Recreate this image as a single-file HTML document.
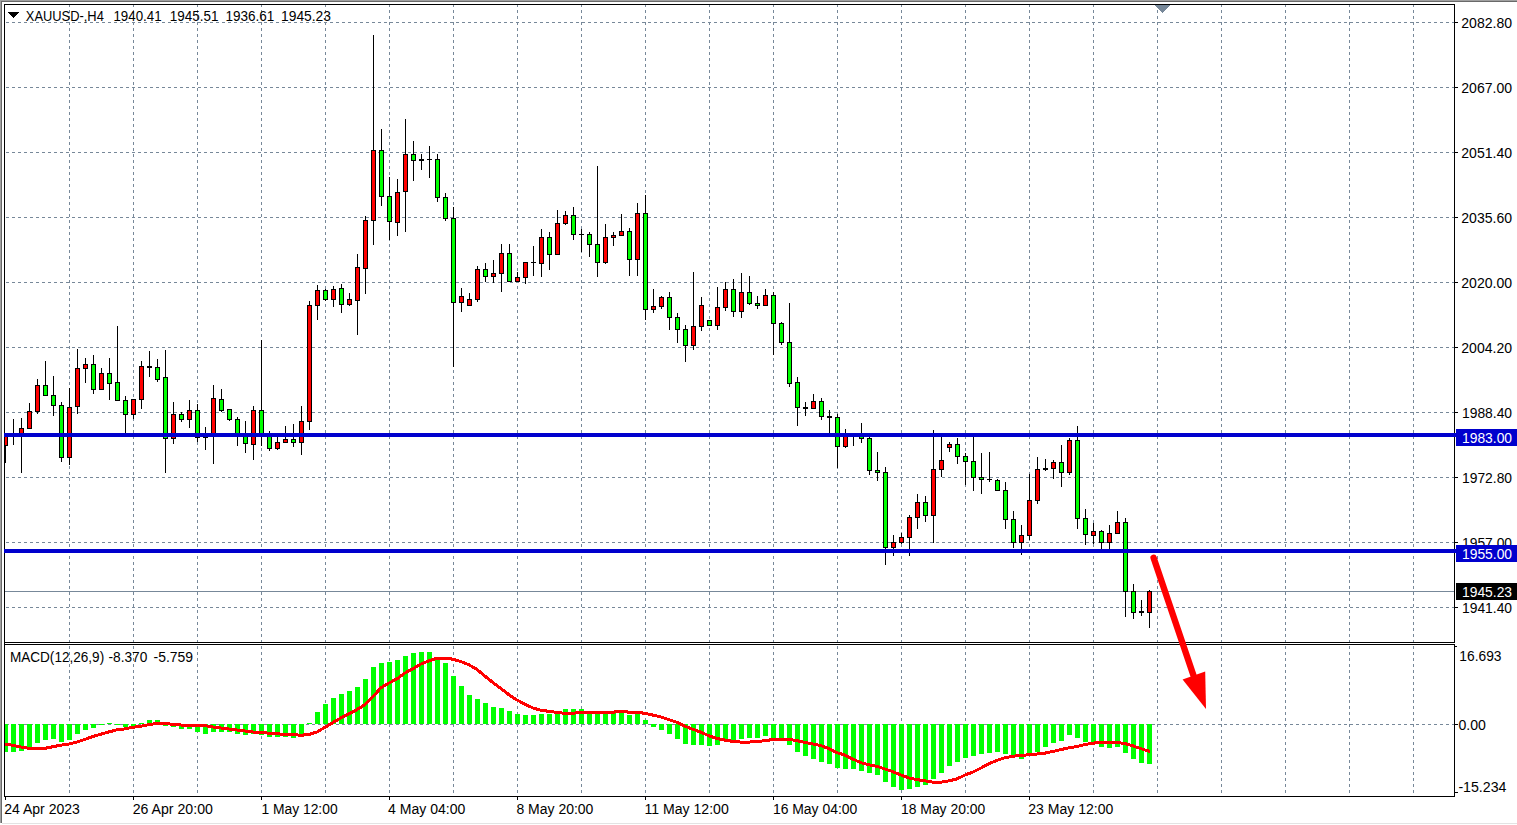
<!DOCTYPE html>
<html><head><meta charset="utf-8"><style>
html,body{margin:0;padding:0;background:#fff;width:1517px;height:825px;overflow:hidden}
svg{display:block}
text{font-family:"Liberation Sans",sans-serif;font-size:14px}
</style></head><body>
<svg width="1517" height="825" viewBox="0 0 1517 825" shape-rendering="crispEdges">
<defs>
<pattern id="hd" x="0" y="0" width="6" height="1" patternUnits="userSpaceOnUse"><rect x="0" y="0" width="3" height="1" fill="#778899"/></pattern>
<pattern id="vd" x="0" y="4" width="1" height="6" patternUnits="userSpaceOnUse"><rect x="0" y="0" width="1" height="3" fill="#778899"/></pattern>
<clipPath id="cm"><rect x="5" y="5" width="1449" height="637"/></clipPath>
<clipPath id="cs"><rect x="5" y="645" width="1449" height="151"/></clipPath>
</defs>
<rect x="0" y="0" width="1517" height="825" fill="#fff"/>
<rect x="0" y="0" width="1517" height="1" fill="#a0a0a0"/><rect x="0" y="0" width="1" height="823" fill="#a0a0a0"/><rect x="1" y="1" width="1517" height="1" fill="#696969"/><rect x="1" y="1" width="1" height="822" fill="#696969"/><rect x="2" y="823" width="1517" height="1" fill="#e3e3e3"/><rect x="5" y="22" width="1449" height="1" fill="url(#hd)"/><rect x="5" y="87" width="1449" height="1" fill="url(#hd)"/><rect x="5" y="152" width="1449" height="1" fill="url(#hd)"/><rect x="5" y="217" width="1449" height="1" fill="url(#hd)"/><rect x="5" y="282" width="1449" height="1" fill="url(#hd)"/><rect x="5" y="347" width="1449" height="1" fill="url(#hd)"/><rect x="5" y="412" width="1449" height="1" fill="url(#hd)"/><rect x="5" y="477" width="1449" height="1" fill="url(#hd)"/><rect x="5" y="542" width="1449" height="1" fill="url(#hd)"/><rect x="5" y="607" width="1449" height="1" fill="url(#hd)"/><rect x="69" y="5" width="1" height="637" fill="url(#vd)"/><rect x="69" y="645" width="1" height="151" fill="url(#vd)"/><rect x="133" y="5" width="1" height="637" fill="url(#vd)"/><rect x="133" y="645" width="1" height="151" fill="url(#vd)"/><rect x="197" y="5" width="1" height="637" fill="url(#vd)"/><rect x="197" y="645" width="1" height="151" fill="url(#vd)"/><rect x="261" y="5" width="1" height="637" fill="url(#vd)"/><rect x="261" y="645" width="1" height="151" fill="url(#vd)"/><rect x="325" y="5" width="1" height="637" fill="url(#vd)"/><rect x="325" y="645" width="1" height="151" fill="url(#vd)"/><rect x="389" y="5" width="1" height="637" fill="url(#vd)"/><rect x="389" y="645" width="1" height="151" fill="url(#vd)"/><rect x="453" y="5" width="1" height="637" fill="url(#vd)"/><rect x="453" y="645" width="1" height="151" fill="url(#vd)"/><rect x="517" y="5" width="1" height="637" fill="url(#vd)"/><rect x="517" y="645" width="1" height="151" fill="url(#vd)"/><rect x="581" y="5" width="1" height="637" fill="url(#vd)"/><rect x="581" y="645" width="1" height="151" fill="url(#vd)"/><rect x="645" y="5" width="1" height="637" fill="url(#vd)"/><rect x="645" y="645" width="1" height="151" fill="url(#vd)"/><rect x="709" y="5" width="1" height="637" fill="url(#vd)"/><rect x="709" y="645" width="1" height="151" fill="url(#vd)"/><rect x="773" y="5" width="1" height="637" fill="url(#vd)"/><rect x="773" y="645" width="1" height="151" fill="url(#vd)"/><rect x="837" y="5" width="1" height="637" fill="url(#vd)"/><rect x="837" y="645" width="1" height="151" fill="url(#vd)"/><rect x="901" y="5" width="1" height="637" fill="url(#vd)"/><rect x="901" y="645" width="1" height="151" fill="url(#vd)"/><rect x="965" y="5" width="1" height="637" fill="url(#vd)"/><rect x="965" y="645" width="1" height="151" fill="url(#vd)"/><rect x="1029" y="5" width="1" height="637" fill="url(#vd)"/><rect x="1029" y="645" width="1" height="151" fill="url(#vd)"/><rect x="1093" y="5" width="1" height="637" fill="url(#vd)"/><rect x="1093" y="645" width="1" height="151" fill="url(#vd)"/><rect x="1157" y="5" width="1" height="637" fill="url(#vd)"/><rect x="1157" y="645" width="1" height="151" fill="url(#vd)"/><rect x="1221" y="5" width="1" height="637" fill="url(#vd)"/><rect x="1221" y="645" width="1" height="151" fill="url(#vd)"/><rect x="1285" y="5" width="1" height="637" fill="url(#vd)"/><rect x="1285" y="645" width="1" height="151" fill="url(#vd)"/><rect x="1349" y="5" width="1" height="637" fill="url(#vd)"/><rect x="1349" y="645" width="1" height="151" fill="url(#vd)"/><rect x="1413" y="5" width="1" height="637" fill="url(#vd)"/><rect x="1413" y="645" width="1" height="151" fill="url(#vd)"/><rect x="5" y="724" width="1449" height="1" fill="url(#hd)"/><rect x="4" y="4" width="1451" height="1" fill="#000"/><rect x="4" y="4" width="1" height="793" fill="#000"/><rect x="1454" y="4" width="1" height="639" fill="#000"/><rect x="4" y="642" width="1451" height="1" fill="#000"/><rect x="4" y="644" width="1451" height="1" fill="#000"/><rect x="1454" y="644" width="1" height="153" fill="#000"/><rect x="4" y="796" width="1451" height="1" fill="#000"/>
<g clip-path="url(#cm)"><rect x="5" y="591" width="1449" height="1" fill="#778899"/><rect x="5" y="433" width="1" height="30" fill="#000"/><rect x="3" y="436" width="5" height="10" fill="#000"/><rect x="4" y="437" width="3" height="8" fill="#FF0000"/><rect x="13" y="419" width="1" height="26" fill="#000"/><rect x="11" y="436" width="5" height="1" fill="#000"/><rect x="21" y="418" width="1" height="55" fill="#000"/><rect x="19" y="428" width="5" height="9" fill="#000"/><rect x="20" y="429" width="3" height="7" fill="#FF0000"/><rect x="29" y="403" width="1" height="26" fill="#000"/><rect x="27" y="411" width="5" height="18" fill="#000"/><rect x="28" y="412" width="3" height="16" fill="#FF0000"/><rect x="37" y="379" width="1" height="35" fill="#000"/><rect x="35" y="385" width="5" height="27" fill="#000"/><rect x="36" y="386" width="3" height="25" fill="#FF0000"/><rect x="45" y="361" width="1" height="35" fill="#000"/><rect x="43" y="385" width="5" height="11" fill="#000"/><rect x="44" y="386" width="3" height="9" fill="#00FF00"/><rect x="53" y="376" width="1" height="40" fill="#000"/><rect x="51" y="395" width="5" height="11" fill="#000"/><rect x="52" y="396" width="3" height="9" fill="#00FF00"/><rect x="61" y="402" width="1" height="60" fill="#000"/><rect x="59" y="405" width="5" height="53" fill="#000"/><rect x="60" y="406" width="3" height="51" fill="#00FF00"/><rect x="69" y="388" width="1" height="77" fill="#000"/><rect x="67" y="407" width="5" height="51" fill="#000"/><rect x="68" y="408" width="3" height="49" fill="#FF0000"/><rect x="77" y="349" width="1" height="65" fill="#000"/><rect x="75" y="368" width="5" height="39" fill="#000"/><rect x="76" y="369" width="3" height="37" fill="#FF0000"/><rect x="85" y="358" width="1" height="25" fill="#000"/><rect x="83" y="364" width="5" height="5" fill="#000"/><rect x="84" y="365" width="3" height="3" fill="#FF0000"/><rect x="93" y="355" width="1" height="39" fill="#000"/><rect x="91" y="364" width="5" height="26" fill="#000"/><rect x="92" y="365" width="3" height="24" fill="#00FF00"/><rect x="101" y="368" width="1" height="22" fill="#000"/><rect x="99" y="373" width="5" height="17" fill="#000"/><rect x="100" y="374" width="3" height="15" fill="#FF0000"/><rect x="109" y="358" width="1" height="42" fill="#000"/><rect x="107" y="373" width="5" height="11" fill="#000"/><rect x="108" y="374" width="3" height="9" fill="#00FF00"/><rect x="117" y="326" width="1" height="75" fill="#000"/><rect x="115" y="382" width="5" height="19" fill="#000"/><rect x="116" y="383" width="3" height="17" fill="#00FF00"/><rect x="125" y="396" width="1" height="38" fill="#000"/><rect x="123" y="400" width="5" height="15" fill="#000"/><rect x="124" y="401" width="3" height="13" fill="#00FF00"/><rect x="133" y="399" width="1" height="20" fill="#000"/><rect x="131" y="399" width="5" height="16" fill="#000"/><rect x="132" y="400" width="3" height="14" fill="#FF0000"/><rect x="141" y="361" width="1" height="48" fill="#000"/><rect x="139" y="366" width="5" height="34" fill="#000"/><rect x="140" y="367" width="3" height="32" fill="#FF0000"/><rect x="149" y="351" width="1" height="26" fill="#000"/><rect x="147" y="366" width="5" height="2" fill="#000"/><rect x="157" y="359" width="1" height="23" fill="#000"/><rect x="155" y="367" width="5" height="13" fill="#000"/><rect x="156" y="368" width="3" height="11" fill="#00FF00"/><rect x="165" y="350" width="1" height="123" fill="#000"/><rect x="163" y="377" width="5" height="62" fill="#000"/><rect x="164" y="378" width="3" height="60" fill="#00FF00"/><rect x="173" y="402" width="1" height="42" fill="#000"/><rect x="171" y="414" width="5" height="25" fill="#000"/><rect x="172" y="415" width="3" height="23" fill="#FF0000"/><rect x="181" y="412" width="1" height="10" fill="#000"/><rect x="179" y="414" width="5" height="6" fill="#000"/><rect x="180" y="415" width="3" height="4" fill="#00FF00"/><rect x="189" y="400" width="1" height="28" fill="#000"/><rect x="187" y="410" width="5" height="10" fill="#000"/><rect x="188" y="411" width="3" height="8" fill="#FF0000"/><rect x="197" y="404" width="1" height="38" fill="#000"/><rect x="195" y="410" width="5" height="28" fill="#000"/><rect x="196" y="411" width="3" height="26" fill="#00FF00"/><rect x="205" y="427" width="1" height="23" fill="#000"/><rect x="203" y="437" width="5" height="1" fill="#000"/><rect x="213" y="385" width="1" height="79" fill="#000"/><rect x="211" y="398" width="5" height="39" fill="#000"/><rect x="212" y="399" width="3" height="37" fill="#FF0000"/><rect x="221" y="389" width="1" height="23" fill="#000"/><rect x="219" y="399" width="5" height="12" fill="#000"/><rect x="220" y="400" width="3" height="10" fill="#00FF00"/><rect x="229" y="409" width="1" height="12" fill="#000"/><rect x="227" y="409" width="5" height="11" fill="#000"/><rect x="228" y="410" width="3" height="9" fill="#00FF00"/><rect x="237" y="417" width="1" height="29" fill="#000"/><rect x="235" y="419" width="5" height="16" fill="#000"/><rect x="236" y="420" width="3" height="14" fill="#00FF00"/><rect x="245" y="421" width="1" height="32" fill="#000"/><rect x="243" y="434" width="5" height="10" fill="#000"/><rect x="244" y="435" width="3" height="8" fill="#00FF00"/><rect x="253" y="406" width="1" height="54" fill="#000"/><rect x="251" y="410" width="5" height="35" fill="#000"/><rect x="252" y="411" width="3" height="33" fill="#FF0000"/><rect x="261" y="340" width="1" height="106" fill="#000"/><rect x="259" y="410" width="5" height="25" fill="#000"/><rect x="260" y="411" width="3" height="23" fill="#00FF00"/><rect x="269" y="431" width="1" height="20" fill="#000"/><rect x="267" y="434" width="5" height="15" fill="#000"/><rect x="268" y="435" width="3" height="13" fill="#00FF00"/><rect x="277" y="437" width="1" height="13" fill="#000"/><rect x="275" y="442" width="5" height="7" fill="#000"/><rect x="276" y="443" width="3" height="5" fill="#FF0000"/><rect x="285" y="426" width="1" height="17" fill="#000"/><rect x="283" y="439" width="5" height="4" fill="#000"/><rect x="284" y="440" width="3" height="2" fill="#FF0000"/><rect x="293" y="424" width="1" height="23" fill="#000"/><rect x="291" y="439" width="5" height="4" fill="#000"/><rect x="292" y="440" width="3" height="2" fill="#00FF00"/><rect x="301" y="406" width="1" height="49" fill="#000"/><rect x="299" y="421" width="5" height="22" fill="#000"/><rect x="300" y="422" width="3" height="20" fill="#FF0000"/><rect x="309" y="301" width="1" height="129" fill="#000"/><rect x="307" y="305" width="5" height="117" fill="#000"/><rect x="308" y="306" width="3" height="115" fill="#FF0000"/><rect x="317" y="285" width="1" height="35" fill="#000"/><rect x="315" y="290" width="5" height="16" fill="#000"/><rect x="316" y="291" width="3" height="14" fill="#FF0000"/><rect x="325" y="289" width="1" height="12" fill="#000"/><rect x="323" y="290" width="5" height="10" fill="#000"/><rect x="324" y="291" width="3" height="8" fill="#00FF00"/><rect x="333" y="286" width="1" height="21" fill="#000"/><rect x="331" y="289" width="5" height="11" fill="#000"/><rect x="332" y="290" width="3" height="9" fill="#FF0000"/><rect x="341" y="284" width="1" height="29" fill="#000"/><rect x="339" y="288" width="5" height="17" fill="#000"/><rect x="340" y="289" width="3" height="15" fill="#00FF00"/><rect x="349" y="293" width="1" height="13" fill="#000"/><rect x="347" y="299" width="5" height="6" fill="#000"/><rect x="348" y="300" width="3" height="4" fill="#FF0000"/><rect x="357" y="254" width="1" height="81" fill="#000"/><rect x="355" y="267" width="5" height="34" fill="#000"/><rect x="356" y="268" width="3" height="32" fill="#FF0000"/><rect x="365" y="216" width="1" height="78" fill="#000"/><rect x="363" y="220" width="5" height="49" fill="#000"/><rect x="364" y="221" width="3" height="47" fill="#FF0000"/><rect x="373" y="35" width="1" height="210" fill="#000"/><rect x="371" y="150" width="5" height="71" fill="#000"/><rect x="372" y="151" width="3" height="69" fill="#FF0000"/><rect x="381" y="129" width="1" height="77" fill="#000"/><rect x="379" y="150" width="5" height="47" fill="#000"/><rect x="380" y="151" width="3" height="45" fill="#00FF00"/><rect x="389" y="177" width="1" height="63" fill="#000"/><rect x="387" y="196" width="5" height="26" fill="#000"/><rect x="388" y="197" width="3" height="24" fill="#00FF00"/><rect x="397" y="179" width="1" height="57" fill="#000"/><rect x="395" y="192" width="5" height="31" fill="#000"/><rect x="396" y="193" width="3" height="29" fill="#FF0000"/><rect x="405" y="119" width="1" height="113" fill="#000"/><rect x="403" y="154" width="5" height="38" fill="#000"/><rect x="404" y="155" width="3" height="36" fill="#FF0000"/><rect x="413" y="141" width="1" height="40" fill="#000"/><rect x="411" y="154" width="5" height="7" fill="#000"/><rect x="412" y="155" width="3" height="5" fill="#00FF00"/><rect x="421" y="154" width="1" height="16" fill="#000"/><rect x="419" y="159" width="5" height="2" fill="#000"/><rect x="429" y="146" width="1" height="32" fill="#000"/><rect x="427" y="159" width="5" height="1" fill="#000"/><rect x="437" y="154" width="1" height="48" fill="#000"/><rect x="435" y="159" width="5" height="39" fill="#000"/><rect x="436" y="160" width="3" height="37" fill="#00FF00"/><rect x="445" y="193" width="1" height="28" fill="#000"/><rect x="443" y="197" width="5" height="22" fill="#000"/><rect x="444" y="198" width="3" height="20" fill="#00FF00"/><rect x="453" y="207" width="1" height="160" fill="#000"/><rect x="451" y="218" width="5" height="85" fill="#000"/><rect x="452" y="219" width="3" height="83" fill="#00FF00"/><rect x="461" y="288" width="1" height="24" fill="#000"/><rect x="459" y="296" width="5" height="7" fill="#000"/><rect x="460" y="297" width="3" height="5" fill="#FF0000"/><rect x="469" y="293" width="1" height="13" fill="#000"/><rect x="467" y="299" width="5" height="7" fill="#000"/><rect x="468" y="300" width="3" height="5" fill="#FF0000"/><rect x="477" y="266" width="1" height="36" fill="#000"/><rect x="475" y="269" width="5" height="31" fill="#000"/><rect x="476" y="270" width="3" height="29" fill="#FF0000"/><rect x="485" y="263" width="1" height="19" fill="#000"/><rect x="483" y="269" width="5" height="8" fill="#000"/><rect x="484" y="270" width="3" height="6" fill="#00FF00"/><rect x="493" y="260" width="1" height="23" fill="#000"/><rect x="491" y="273" width="5" height="4" fill="#000"/><rect x="492" y="274" width="3" height="2" fill="#FF0000"/><rect x="501" y="244" width="1" height="48" fill="#000"/><rect x="499" y="253" width="5" height="21" fill="#000"/><rect x="500" y="254" width="3" height="19" fill="#FF0000"/><rect x="509" y="244" width="1" height="38" fill="#000"/><rect x="507" y="253" width="5" height="29" fill="#000"/><rect x="508" y="254" width="3" height="27" fill="#00FF00"/><rect x="517" y="272" width="1" height="10" fill="#000"/><rect x="515" y="277" width="5" height="5" fill="#000"/><rect x="516" y="278" width="3" height="3" fill="#FF0000"/><rect x="525" y="262" width="1" height="22" fill="#000"/><rect x="523" y="262" width="5" height="16" fill="#000"/><rect x="524" y="263" width="3" height="14" fill="#FF0000"/><rect x="533" y="246" width="1" height="30" fill="#000"/><rect x="531" y="262" width="5" height="1" fill="#000"/><rect x="541" y="229" width="1" height="48" fill="#000"/><rect x="539" y="237" width="5" height="27" fill="#000"/><rect x="540" y="238" width="3" height="25" fill="#FF0000"/><rect x="549" y="232" width="1" height="38" fill="#000"/><rect x="547" y="237" width="5" height="18" fill="#000"/><rect x="548" y="238" width="3" height="16" fill="#00FF00"/><rect x="557" y="210" width="1" height="45" fill="#000"/><rect x="555" y="223" width="5" height="32" fill="#000"/><rect x="556" y="224" width="3" height="30" fill="#FF0000"/><rect x="565" y="211" width="1" height="14" fill="#000"/><rect x="563" y="215" width="5" height="9" fill="#000"/><rect x="564" y="216" width="3" height="7" fill="#FF0000"/><rect x="573" y="207" width="1" height="33" fill="#000"/><rect x="571" y="215" width="5" height="20" fill="#000"/><rect x="572" y="216" width="3" height="18" fill="#00FF00"/><rect x="581" y="229" width="1" height="23" fill="#000"/><rect x="579" y="234" width="5" height="1" fill="#000"/><rect x="589" y="232" width="1" height="25" fill="#000"/><rect x="587" y="234" width="5" height="11" fill="#000"/><rect x="588" y="235" width="3" height="9" fill="#00FF00"/><rect x="597" y="166" width="1" height="111" fill="#000"/><rect x="595" y="244" width="5" height="19" fill="#000"/><rect x="596" y="245" width="3" height="17" fill="#00FF00"/><rect x="605" y="224" width="1" height="40" fill="#000"/><rect x="603" y="237" width="5" height="26" fill="#000"/><rect x="604" y="238" width="3" height="24" fill="#FF0000"/><rect x="613" y="232" width="1" height="14" fill="#000"/><rect x="611" y="235" width="5" height="3" fill="#000"/><rect x="612" y="236" width="3" height="1" fill="#FF0000"/><rect x="621" y="214" width="1" height="22" fill="#000"/><rect x="619" y="231" width="5" height="5" fill="#000"/><rect x="620" y="232" width="3" height="3" fill="#FF0000"/><rect x="629" y="228" width="1" height="48" fill="#000"/><rect x="627" y="231" width="5" height="29" fill="#000"/><rect x="628" y="232" width="3" height="27" fill="#00FF00"/><rect x="637" y="203" width="1" height="73" fill="#000"/><rect x="635" y="213" width="5" height="47" fill="#000"/><rect x="636" y="214" width="3" height="45" fill="#FF0000"/><rect x="645" y="195" width="1" height="125" fill="#000"/><rect x="643" y="213" width="5" height="97" fill="#000"/><rect x="644" y="214" width="3" height="95" fill="#00FF00"/><rect x="653" y="289" width="1" height="24" fill="#000"/><rect x="651" y="306" width="5" height="4" fill="#000"/><rect x="652" y="307" width="3" height="2" fill="#FF0000"/><rect x="661" y="296" width="1" height="13" fill="#000"/><rect x="659" y="297" width="5" height="10" fill="#000"/><rect x="660" y="298" width="3" height="8" fill="#FF0000"/><rect x="669" y="292" width="1" height="38" fill="#000"/><rect x="667" y="297" width="5" height="21" fill="#000"/><rect x="668" y="298" width="3" height="19" fill="#00FF00"/><rect x="677" y="313" width="1" height="30" fill="#000"/><rect x="675" y="317" width="5" height="13" fill="#000"/><rect x="676" y="318" width="3" height="11" fill="#00FF00"/><rect x="685" y="325" width="1" height="37" fill="#000"/><rect x="683" y="329" width="5" height="17" fill="#000"/><rect x="684" y="330" width="3" height="15" fill="#00FF00"/><rect x="693" y="272" width="1" height="78" fill="#000"/><rect x="691" y="326" width="5" height="20" fill="#000"/><rect x="692" y="327" width="3" height="18" fill="#FF0000"/><rect x="701" y="297" width="1" height="34" fill="#000"/><rect x="699" y="305" width="5" height="22" fill="#000"/><rect x="700" y="306" width="3" height="20" fill="#FF0000"/><rect x="709" y="320" width="1" height="6" fill="#000"/><rect x="707" y="320" width="5" height="6" fill="#000"/><rect x="708" y="321" width="3" height="4" fill="#00FF00"/><rect x="717" y="287" width="1" height="43" fill="#000"/><rect x="715" y="307" width="5" height="19" fill="#000"/><rect x="716" y="308" width="3" height="17" fill="#FF0000"/><rect x="725" y="282" width="1" height="29" fill="#000"/><rect x="723" y="289" width="5" height="19" fill="#000"/><rect x="724" y="290" width="3" height="17" fill="#FF0000"/><rect x="733" y="279" width="1" height="38" fill="#000"/><rect x="731" y="289" width="5" height="23" fill="#000"/><rect x="732" y="290" width="3" height="21" fill="#00FF00"/><rect x="741" y="273" width="1" height="45" fill="#000"/><rect x="739" y="292" width="5" height="20" fill="#000"/><rect x="740" y="293" width="3" height="18" fill="#FF0000"/><rect x="749" y="276" width="1" height="29" fill="#000"/><rect x="747" y="292" width="5" height="12" fill="#000"/><rect x="748" y="293" width="3" height="10" fill="#00FF00"/><rect x="757" y="296" width="1" height="13" fill="#000"/><rect x="755" y="303" width="5" height="3" fill="#000"/><rect x="756" y="304" width="3" height="1" fill="#00FF00"/><rect x="765" y="289" width="1" height="17" fill="#000"/><rect x="763" y="295" width="5" height="11" fill="#000"/><rect x="764" y="296" width="3" height="9" fill="#FF0000"/><rect x="773" y="292" width="1" height="63" fill="#000"/><rect x="771" y="295" width="5" height="29" fill="#000"/><rect x="772" y="296" width="3" height="27" fill="#00FF00"/><rect x="781" y="322" width="1" height="23" fill="#000"/><rect x="779" y="323" width="5" height="20" fill="#000"/><rect x="780" y="324" width="3" height="18" fill="#00FF00"/><rect x="789" y="303" width="1" height="84" fill="#000"/><rect x="787" y="342" width="5" height="42" fill="#000"/><rect x="788" y="343" width="3" height="40" fill="#00FF00"/><rect x="797" y="377" width="1" height="49" fill="#000"/><rect x="795" y="382" width="5" height="26" fill="#000"/><rect x="796" y="383" width="3" height="24" fill="#00FF00"/><rect x="805" y="402" width="1" height="14" fill="#000"/><rect x="803" y="407" width="5" height="2" fill="#000"/><rect x="813" y="394" width="1" height="15" fill="#000"/><rect x="811" y="401" width="5" height="8" fill="#000"/><rect x="812" y="402" width="3" height="6" fill="#FF0000"/><rect x="821" y="398" width="1" height="22" fill="#000"/><rect x="819" y="401" width="5" height="16" fill="#000"/><rect x="820" y="402" width="3" height="14" fill="#00FF00"/><rect x="829" y="410" width="1" height="24" fill="#000"/><rect x="827" y="416" width="5" height="2" fill="#000"/><rect x="837" y="414" width="1" height="54" fill="#000"/><rect x="835" y="417" width="5" height="30" fill="#000"/><rect x="836" y="418" width="3" height="28" fill="#00FF00"/><rect x="845" y="429" width="1" height="19" fill="#000"/><rect x="843" y="435" width="5" height="12" fill="#000"/><rect x="844" y="436" width="3" height="10" fill="#FF0000"/><rect x="853" y="433" width="1" height="13" fill="#000"/><rect x="851" y="435" width="5" height="1" fill="#000"/><rect x="861" y="423" width="1" height="20" fill="#000"/><rect x="859" y="436" width="5" height="3" fill="#000"/><rect x="860" y="437" width="3" height="1" fill="#00FF00"/><rect x="869" y="437" width="1" height="38" fill="#000"/><rect x="867" y="438" width="5" height="33" fill="#000"/><rect x="868" y="439" width="3" height="31" fill="#00FF00"/><rect x="877" y="452" width="1" height="29" fill="#000"/><rect x="875" y="470" width="5" height="3" fill="#000"/><rect x="876" y="471" width="3" height="1" fill="#00FF00"/><rect x="885" y="467" width="1" height="98" fill="#000"/><rect x="883" y="472" width="5" height="76" fill="#000"/><rect x="884" y="473" width="3" height="74" fill="#00FF00"/><rect x="893" y="535" width="1" height="21" fill="#000"/><rect x="891" y="542" width="5" height="6" fill="#000"/><rect x="892" y="543" width="3" height="4" fill="#FF0000"/><rect x="901" y="533" width="1" height="11" fill="#000"/><rect x="899" y="537" width="5" height="6" fill="#000"/><rect x="900" y="538" width="3" height="4" fill="#FF0000"/><rect x="909" y="515" width="1" height="41" fill="#000"/><rect x="907" y="517" width="5" height="21" fill="#000"/><rect x="908" y="518" width="3" height="19" fill="#FF0000"/><rect x="917" y="494" width="1" height="35" fill="#000"/><rect x="915" y="502" width="5" height="16" fill="#000"/><rect x="916" y="503" width="3" height="14" fill="#FF0000"/><rect x="925" y="496" width="1" height="26" fill="#000"/><rect x="923" y="502" width="5" height="14" fill="#000"/><rect x="924" y="503" width="3" height="12" fill="#00FF00"/><rect x="933" y="430" width="1" height="113" fill="#000"/><rect x="931" y="469" width="5" height="47" fill="#000"/><rect x="932" y="470" width="3" height="45" fill="#FF0000"/><rect x="941" y="434" width="1" height="43" fill="#000"/><rect x="939" y="460" width="5" height="10" fill="#000"/><rect x="940" y="461" width="3" height="8" fill="#FF0000"/><rect x="949" y="442" width="1" height="10" fill="#000"/><rect x="947" y="444" width="5" height="4" fill="#000"/><rect x="948" y="445" width="3" height="2" fill="#FF0000"/><rect x="957" y="438" width="1" height="26" fill="#000"/><rect x="955" y="444" width="5" height="13" fill="#000"/><rect x="956" y="445" width="3" height="11" fill="#00FF00"/><rect x="965" y="453" width="1" height="32" fill="#000"/><rect x="963" y="456" width="5" height="6" fill="#000"/><rect x="964" y="457" width="3" height="4" fill="#00FF00"/><rect x="973" y="434" width="1" height="57" fill="#000"/><rect x="971" y="461" width="5" height="17" fill="#000"/><rect x="972" y="462" width="3" height="15" fill="#00FF00"/><rect x="981" y="453" width="1" height="41" fill="#000"/><rect x="979" y="477" width="5" height="3" fill="#000"/><rect x="980" y="478" width="3" height="1" fill="#00FF00"/><rect x="989" y="452" width="1" height="30" fill="#000"/><rect x="987" y="479" width="5" height="1" fill="#000"/><rect x="997" y="479" width="1" height="12" fill="#000"/><rect x="995" y="480" width="5" height="11" fill="#000"/><rect x="996" y="481" width="3" height="9" fill="#00FF00"/><rect x="1005" y="482" width="1" height="47" fill="#000"/><rect x="1003" y="490" width="5" height="30" fill="#000"/><rect x="1004" y="491" width="3" height="28" fill="#00FF00"/><rect x="1013" y="511" width="1" height="37" fill="#000"/><rect x="1011" y="519" width="5" height="24" fill="#000"/><rect x="1012" y="520" width="3" height="22" fill="#00FF00"/><rect x="1021" y="525" width="1" height="30" fill="#000"/><rect x="1019" y="535" width="5" height="8" fill="#000"/><rect x="1020" y="536" width="3" height="6" fill="#FF0000"/><rect x="1029" y="474" width="1" height="66" fill="#000"/><rect x="1027" y="500" width="5" height="36" fill="#000"/><rect x="1028" y="501" width="3" height="34" fill="#FF0000"/><rect x="1037" y="457" width="1" height="47" fill="#000"/><rect x="1035" y="469" width="5" height="32" fill="#000"/><rect x="1036" y="470" width="3" height="30" fill="#FF0000"/><rect x="1045" y="459" width="1" height="12" fill="#000"/><rect x="1043" y="468" width="5" height="2" fill="#000"/><rect x="1053" y="460" width="1" height="19" fill="#000"/><rect x="1051" y="462" width="5" height="7" fill="#000"/><rect x="1052" y="463" width="3" height="5" fill="#FF0000"/><rect x="1061" y="445" width="1" height="42" fill="#000"/><rect x="1059" y="462" width="5" height="11" fill="#000"/><rect x="1060" y="463" width="3" height="9" fill="#00FF00"/><rect x="1069" y="438" width="1" height="37" fill="#000"/><rect x="1067" y="440" width="5" height="33" fill="#000"/><rect x="1068" y="441" width="3" height="31" fill="#FF0000"/><rect x="1077" y="426" width="1" height="103" fill="#000"/><rect x="1075" y="440" width="5" height="79" fill="#000"/><rect x="1076" y="441" width="3" height="77" fill="#00FF00"/><rect x="1085" y="509" width="1" height="36" fill="#000"/><rect x="1083" y="518" width="5" height="17" fill="#000"/><rect x="1084" y="519" width="3" height="15" fill="#00FF00"/><rect x="1093" y="523" width="1" height="21" fill="#000"/><rect x="1091" y="531" width="5" height="5" fill="#000"/><rect x="1092" y="532" width="3" height="3" fill="#FF0000"/><rect x="1101" y="530" width="1" height="19" fill="#000"/><rect x="1099" y="531" width="5" height="12" fill="#000"/><rect x="1100" y="532" width="3" height="10" fill="#00FF00"/><rect x="1109" y="525" width="1" height="24" fill="#000"/><rect x="1107" y="533" width="5" height="10" fill="#000"/><rect x="1108" y="534" width="3" height="8" fill="#FF0000"/><rect x="1117" y="511" width="1" height="23" fill="#000"/><rect x="1115" y="522" width="5" height="12" fill="#000"/><rect x="1116" y="523" width="3" height="10" fill="#FF0000"/><rect x="1125" y="518" width="1" height="99" fill="#000"/><rect x="1123" y="522" width="5" height="70" fill="#000"/><rect x="1124" y="523" width="3" height="68" fill="#00FF00"/><rect x="1133" y="584" width="1" height="35" fill="#000"/><rect x="1131" y="591" width="5" height="22" fill="#000"/><rect x="1132" y="592" width="3" height="20" fill="#00FF00"/><rect x="1141" y="600" width="1" height="16" fill="#000"/><rect x="1139" y="611" width="5" height="2" fill="#000"/><rect x="1149" y="590" width="1" height="38" fill="#000"/><rect x="1147" y="591" width="5" height="22" fill="#000"/><rect x="1148" y="592" width="3" height="20" fill="#FF0000"/></g>
<g clip-path="url(#cs)"><rect x="3" y="724" width="5" height="28" fill="#00FF00"/><rect x="11" y="724" width="5" height="28" fill="#00FF00"/><rect x="19" y="724" width="5" height="27" fill="#00FF00"/><rect x="27" y="724" width="5" height="23" fill="#00FF00"/><rect x="35" y="724" width="5" height="19" fill="#00FF00"/><rect x="43" y="724" width="5" height="16" fill="#00FF00"/><rect x="51" y="724" width="5" height="15" fill="#00FF00"/><rect x="59" y="724" width="5" height="18" fill="#00FF00"/><rect x="67" y="724" width="5" height="16" fill="#00FF00"/><rect x="75" y="724" width="5" height="10" fill="#00FF00"/><rect x="83" y="724" width="5" height="6" fill="#00FF00"/><rect x="91" y="724" width="5" height="4" fill="#00FF00"/><rect x="99" y="724" width="5" height="1" fill="#00FF00"/><rect x="107" y="723" width="5" height="1" fill="#00FF00"/><rect x="115" y="724" width="5" height="1" fill="#00FF00"/><rect x="123" y="724" width="5" height="3" fill="#00FF00"/><rect x="131" y="724" width="5" height="3" fill="#00FF00"/><rect x="139" y="723" width="5" height="1" fill="#00FF00"/><rect x="147" y="720" width="5" height="4" fill="#00FF00"/><rect x="155" y="720" width="5" height="4" fill="#00FF00"/><rect x="163" y="724" width="5" height="2" fill="#00FF00"/><rect x="171" y="724" width="5" height="3" fill="#00FF00"/><rect x="179" y="724" width="5" height="5" fill="#00FF00"/><rect x="187" y="724" width="5" height="5" fill="#00FF00"/><rect x="195" y="724" width="5" height="8" fill="#00FF00"/><rect x="203" y="724" width="5" height="10" fill="#00FF00"/><rect x="211" y="724" width="5" height="8" fill="#00FF00"/><rect x="219" y="724" width="5" height="8" fill="#00FF00"/><rect x="227" y="724" width="5" height="8" fill="#00FF00"/><rect x="235" y="724" width="5" height="10" fill="#00FF00"/><rect x="243" y="724" width="5" height="11" fill="#00FF00"/><rect x="251" y="724" width="5" height="10" fill="#00FF00"/><rect x="259" y="724" width="5" height="11" fill="#00FF00"/><rect x="267" y="724" width="5" height="13" fill="#00FF00"/><rect x="275" y="724" width="5" height="13" fill="#00FF00"/><rect x="283" y="724" width="5" height="13" fill="#00FF00"/><rect x="291" y="724" width="5" height="14" fill="#00FF00"/><rect x="299" y="724" width="5" height="11" fill="#00FF00"/><rect x="307" y="723" width="5" height="1" fill="#00FF00"/><rect x="315" y="712" width="5" height="12" fill="#00FF00"/><rect x="323" y="704" width="5" height="20" fill="#00FF00"/><rect x="331" y="698" width="5" height="26" fill="#00FF00"/><rect x="339" y="694" width="5" height="30" fill="#00FF00"/><rect x="347" y="691" width="5" height="33" fill="#00FF00"/><rect x="355" y="687" width="5" height="37" fill="#00FF00"/><rect x="363" y="679" width="5" height="45" fill="#00FF00"/><rect x="371" y="667" width="5" height="57" fill="#00FF00"/><rect x="379" y="663" width="5" height="61" fill="#00FF00"/><rect x="387" y="662" width="5" height="62" fill="#00FF00"/><rect x="395" y="660" width="5" height="64" fill="#00FF00"/><rect x="403" y="656" width="5" height="68" fill="#00FF00"/><rect x="411" y="653" width="5" height="71" fill="#00FF00"/><rect x="419" y="652" width="5" height="72" fill="#00FF00"/><rect x="427" y="652" width="5" height="72" fill="#00FF00"/><rect x="435" y="657" width="5" height="67" fill="#00FF00"/><rect x="443" y="663" width="5" height="61" fill="#00FF00"/><rect x="451" y="676" width="5" height="48" fill="#00FF00"/><rect x="459" y="686" width="5" height="38" fill="#00FF00"/><rect x="467" y="695" width="5" height="29" fill="#00FF00"/><rect x="475" y="699" width="5" height="25" fill="#00FF00"/><rect x="483" y="703" width="5" height="21" fill="#00FF00"/><rect x="491" y="707" width="5" height="17" fill="#00FF00"/><rect x="499" y="708" width="5" height="16" fill="#00FF00"/><rect x="507" y="711" width="5" height="13" fill="#00FF00"/><rect x="515" y="714" width="5" height="10" fill="#00FF00"/><rect x="523" y="715" width="5" height="9" fill="#00FF00"/><rect x="531" y="715" width="5" height="9" fill="#00FF00"/><rect x="539" y="714" width="5" height="10" fill="#00FF00"/><rect x="547" y="714" width="5" height="10" fill="#00FF00"/><rect x="555" y="712" width="5" height="12" fill="#00FF00"/><rect x="563" y="709" width="5" height="15" fill="#00FF00"/><rect x="571" y="709" width="5" height="15" fill="#00FF00"/><rect x="579" y="709" width="5" height="15" fill="#00FF00"/><rect x="587" y="712" width="5" height="12" fill="#00FF00"/><rect x="595" y="712" width="5" height="12" fill="#00FF00"/><rect x="603" y="712" width="5" height="12" fill="#00FF00"/><rect x="611" y="712" width="5" height="12" fill="#00FF00"/><rect x="619" y="713" width="5" height="11" fill="#00FF00"/><rect x="627" y="715" width="5" height="9" fill="#00FF00"/><rect x="635" y="714" width="5" height="10" fill="#00FF00"/><rect x="643" y="720" width="5" height="4" fill="#00FF00"/><rect x="651" y="724" width="5" height="3" fill="#00FF00"/><rect x="659" y="724" width="5" height="6" fill="#00FF00"/><rect x="667" y="724" width="5" height="10" fill="#00FF00"/><rect x="675" y="724" width="5" height="15" fill="#00FF00"/><rect x="683" y="724" width="5" height="20" fill="#00FF00"/><rect x="691" y="724" width="5" height="21" fill="#00FF00"/><rect x="699" y="724" width="5" height="21" fill="#00FF00"/><rect x="707" y="724" width="5" height="22" fill="#00FF00"/><rect x="715" y="724" width="5" height="21" fill="#00FF00"/><rect x="723" y="724" width="5" height="17" fill="#00FF00"/><rect x="731" y="724" width="5" height="16" fill="#00FF00"/><rect x="739" y="724" width="5" height="15" fill="#00FF00"/><rect x="747" y="724" width="5" height="14" fill="#00FF00"/><rect x="755" y="724" width="5" height="14" fill="#00FF00"/><rect x="763" y="724" width="5" height="12" fill="#00FF00"/><rect x="771" y="724" width="5" height="14" fill="#00FF00"/><rect x="779" y="724" width="5" height="15" fill="#00FF00"/><rect x="787" y="724" width="5" height="21" fill="#00FF00"/><rect x="795" y="724" width="5" height="28" fill="#00FF00"/><rect x="803" y="724" width="5" height="32" fill="#00FF00"/><rect x="811" y="724" width="5" height="35" fill="#00FF00"/><rect x="819" y="724" width="5" height="38" fill="#00FF00"/><rect x="827" y="724" width="5" height="40" fill="#00FF00"/><rect x="835" y="724" width="5" height="44" fill="#00FF00"/><rect x="843" y="724" width="5" height="45" fill="#00FF00"/><rect x="851" y="724" width="5" height="45" fill="#00FF00"/><rect x="859" y="724" width="5" height="47" fill="#00FF00"/><rect x="867" y="724" width="5" height="49" fill="#00FF00"/><rect x="875" y="724" width="5" height="51" fill="#00FF00"/><rect x="883" y="724" width="5" height="58" fill="#00FF00"/><rect x="891" y="724" width="5" height="63" fill="#00FF00"/><rect x="899" y="724" width="5" height="66" fill="#00FF00"/><rect x="907" y="724" width="5" height="65" fill="#00FF00"/><rect x="915" y="724" width="5" height="63" fill="#00FF00"/><rect x="923" y="724" width="5" height="61" fill="#00FF00"/><rect x="931" y="724" width="5" height="55" fill="#00FF00"/><rect x="939" y="724" width="5" height="49" fill="#00FF00"/><rect x="947" y="724" width="5" height="42" fill="#00FF00"/><rect x="955" y="724" width="5" height="38" fill="#00FF00"/><rect x="963" y="724" width="5" height="34" fill="#00FF00"/><rect x="971" y="724" width="5" height="32" fill="#00FF00"/><rect x="979" y="724" width="5" height="30" fill="#00FF00"/><rect x="987" y="724" width="5" height="29" fill="#00FF00"/><rect x="995" y="724" width="5" height="28" fill="#00FF00"/><rect x="1003" y="724" width="5" height="30" fill="#00FF00"/><rect x="1011" y="724" width="5" height="31" fill="#00FF00"/><rect x="1019" y="724" width="5" height="35" fill="#00FF00"/><rect x="1027" y="724" width="5" height="31" fill="#00FF00"/><rect x="1035" y="724" width="5" height="28" fill="#00FF00"/><rect x="1043" y="724" width="5" height="23" fill="#00FF00"/><rect x="1051" y="724" width="5" height="19" fill="#00FF00"/><rect x="1059" y="724" width="5" height="17" fill="#00FF00"/><rect x="1067" y="724" width="5" height="11" fill="#00FF00"/><rect x="1075" y="724" width="5" height="14" fill="#00FF00"/><rect x="1083" y="724" width="5" height="18" fill="#00FF00"/><rect x="1091" y="724" width="5" height="20" fill="#00FF00"/><rect x="1099" y="724" width="5" height="23" fill="#00FF00"/><rect x="1107" y="724" width="5" height="24" fill="#00FF00"/><rect x="1115" y="724" width="5" height="23" fill="#00FF00"/><rect x="1123" y="724" width="5" height="29" fill="#00FF00"/><rect x="1131" y="724" width="5" height="35" fill="#00FF00"/><rect x="1139" y="724" width="5" height="39" fill="#00FF00"/><rect x="1147" y="724" width="5" height="40" fill="#00FF00"/><polyline points="5,744 13,745.4 21,747 29,748.3 37,748.3 45,748.3 53,746.7 61,745.1 69,744 77,742 85,739.4 93,736.4 101,734.2 109,731.9 117,729.8 125,728.9 133,727.2 141,726.3 149,724.5 157,723.6 165,723.2 173,724.5 181,725 189,725.6 197,725.4 205,725.7 213,727 221,728 229,729 237,730 245,731 253,732 261,732.3 269,733.3 277,733.6 285,734.6 293,734.6 301,735.3 309,734.4 317,732 325,727.3 333,722.5 341,717.8 349,713.6 357,709.6 365,704.6 373,696.7 381,687.7 389,683 397,678.8 405,673 413,668.7 421,664 429,660.8 437,658.2 445,658.2 453,659.2 461,661.6 469,664.8 477,669.5 485,676.2 493,682.6 501,688.5 509,694.8 517,700.0 525,704.2 533,708 541,710.2 549,711.4 557,712.4 565,713.3 573,713.3 581,712.3 589,712.2 597,712.2 605,712.2 613,712.2 621,711.2 629,712.2 637,712.2 645,713.4 653,715.1 661,717 669,719.7 677,722.3 685,726.3 693,729.3 701,732.2 709,735.9 717,738.5 725,740.1 733,741.4 741,742.1 749,742.1 757,741.4 765,740.8 773,739.4 781,739.4 789,739.4 797,740.7 805,742.4 813,744 821,745.6 829,748.6 837,752.6 845,755.2 853,759.2 861,762.7 869,764.8 877,766.4 885,769 893,771.7 901,775 909,778 917,779.6 925,780.9 933,782.2 941,782.2 949,780.9 957,778.9 965,775 973,772 981,768 989,763.7 997,760.4 1005,757.7 1013,756.2 1021,755.4 1029,754.8 1037,754 1045,753.1 1053,751.4 1061,749.6 1069,747.8 1077,746.5 1085,744.6 1093,743.2 1101,742.2 1109,742.2 1117,742.6 1125,743.5 1133,745.9 1141,748.8 1149,751.1" fill="none" stroke="#FF0000" stroke-width="3" stroke-linejoin="round" stroke-linecap="round"/></g>
<rect x="1455" y="22" width="3" height="1" fill="#000"/><rect x="1455" y="87" width="3" height="1" fill="#000"/><rect x="1455" y="152" width="3" height="1" fill="#000"/><rect x="1455" y="217" width="3" height="1" fill="#000"/><rect x="1455" y="282" width="3" height="1" fill="#000"/><rect x="1455" y="347" width="3" height="1" fill="#000"/><rect x="1455" y="412" width="3" height="1" fill="#000"/><rect x="1455" y="477" width="3" height="1" fill="#000"/><rect x="1455" y="542" width="3" height="1" fill="#000"/><rect x="1455" y="607" width="3" height="1" fill="#000"/><rect x="1455" y="646" width="2" height="1" fill="#000"/><rect x="1455" y="724" width="3" height="1" fill="#000"/><rect x="1455" y="792" width="3" height="1" fill="#000"/><rect x="5" y="797" width="1" height="3" fill="#000"/><rect x="133" y="797" width="1" height="3" fill="#000"/><rect x="261" y="797" width="1" height="3" fill="#000"/><rect x="389" y="797" width="1" height="3" fill="#000"/><rect x="517" y="797" width="1" height="3" fill="#000"/><rect x="645" y="797" width="1" height="3" fill="#000"/><rect x="773" y="797" width="1" height="3" fill="#000"/><rect x="901" y="797" width="1" height="3" fill="#000"/><rect x="1029" y="797" width="1" height="3" fill="#000"/>
<rect x="4" y="433" width="1452" height="4" fill="#0000CD"/><rect x="4" y="549" width="1452" height="4" fill="#0000CD"/>
<line x1="1153.6" y1="557.8" x2="1193.5" y2="675.5" stroke="#FF0000" stroke-width="6.4" stroke-linecap="round" shape-rendering="geometricPrecision"/>
<polygon points="1182.6,679.4 1205.2,671.4 1206,709" fill="#FF0000" shape-rendering="geometricPrecision"/>
<g><text x="1461.30" y="28" fill="#000" textLength="50.78" lengthAdjust="spacingAndGlyphs">2082.80</text><text x="1461.30" y="93" fill="#000" textLength="50.78" lengthAdjust="spacingAndGlyphs">2067.00</text><text x="1461.30" y="158" fill="#000" textLength="50.78" lengthAdjust="spacingAndGlyphs">2051.40</text><text x="1461.30" y="223" fill="#000" textLength="50.78" lengthAdjust="spacingAndGlyphs">2035.60</text><text x="1461.30" y="288" fill="#000" textLength="50.78" lengthAdjust="spacingAndGlyphs">2020.00</text><text x="1461.30" y="353" fill="#000" textLength="50.78" lengthAdjust="spacingAndGlyphs">2004.20</text><text x="1462.00" y="418" fill="#000" textLength="50.08" lengthAdjust="spacingAndGlyphs">1988.40</text><text x="1462.00" y="483" fill="#000" textLength="50.08" lengthAdjust="spacingAndGlyphs">1972.80</text><text x="1462.00" y="548" fill="#000" textLength="50.08" lengthAdjust="spacingAndGlyphs">1957.00</text><text x="1462.00" y="613" fill="#000" textLength="50.08" lengthAdjust="spacingAndGlyphs">1941.40</text><text x="1459.30" y="661" fill="#000" textLength="42.20" lengthAdjust="spacingAndGlyphs">16.693</text><text x="1458.40" y="730" fill="#000" textLength="27.44" lengthAdjust="spacingAndGlyphs">0.00</text><text x="1458.40" y="792" fill="#000" textLength="48.05" lengthAdjust="spacingAndGlyphs">-15.234</text><text x="4.20" y="814" fill="#000" textLength="75.68" lengthAdjust="spacingAndGlyphs">24 Apr 2023</text><text x="132.70" y="814" fill="#000" textLength="80.17" lengthAdjust="spacingAndGlyphs">26 Apr 20:00</text><text x="261.40" y="814" fill="#000" textLength="76.22" lengthAdjust="spacingAndGlyphs">1 May 12:00</text><text x="388.00" y="814" fill="#000" textLength="77.32" lengthAdjust="spacingAndGlyphs">4 May 04:00</text><text x="516.40" y="814" fill="#000" textLength="77.02" lengthAdjust="spacingAndGlyphs">8 May 20:00</text><text x="644.50" y="814" fill="#000" textLength="84.26" lengthAdjust="spacingAndGlyphs">11 May 12:00</text><text x="772.90" y="814" fill="#000" textLength="84.40" lengthAdjust="spacingAndGlyphs">16 May 04:00</text><text x="901.00" y="814" fill="#000" textLength="84.20" lengthAdjust="spacingAndGlyphs">18 May 20:00</text><text x="1028.30" y="814" fill="#000" textLength="85.00" lengthAdjust="spacingAndGlyphs">23 May 12:00</text><text x="25.80" y="21" fill="#000" textLength="78.01" lengthAdjust="spacingAndGlyphs">XAUUSD-,H4</text><text x="113.40" y="21" fill="#000" textLength="48.20" lengthAdjust="spacingAndGlyphs">1940.41</text><text x="169.80" y="21" fill="#000" textLength="48.59" lengthAdjust="spacingAndGlyphs">1945.51</text><text x="225.50" y="21" fill="#000" textLength="48.89" lengthAdjust="spacingAndGlyphs">1936.61</text><text x="281.00" y="21" fill="#000" textLength="49.98" lengthAdjust="spacingAndGlyphs">1945.23</text><text x="9.90" y="662" fill="#000" textLength="94.31" lengthAdjust="spacingAndGlyphs">MACD(12,26,9)</text><text x="108.50" y="662" fill="#000" textLength="38.88" lengthAdjust="spacingAndGlyphs">-8.370</text><text x="153.50" y="662" fill="#000" textLength="39.47" lengthAdjust="spacingAndGlyphs">-5.759</text></g>
<rect x="1456" y="429" width="61" height="17" fill="#0000CD"/>
<rect x="1456" y="545" width="61" height="17" fill="#0000CD"/>
<rect x="1456" y="583" width="61" height="17" fill="#000"/>
<rect x="8" y="12" width="11" height="1" fill="#000"/><rect x="9" y="13" width="9" height="1" fill="#000"/><rect x="10" y="14" width="7" height="1" fill="#000"/><rect x="11" y="15" width="5" height="1" fill="#000"/><rect x="12" y="16" width="3" height="1" fill="#000"/><rect x="13" y="17" width="1" height="1" fill="#000"/><rect x="1155" y="5" width="15" height="1" fill="#778899"/><rect x="1156" y="6" width="13" height="1" fill="#778899"/><rect x="1157" y="7" width="11" height="1" fill="#778899"/><rect x="1158" y="8" width="9" height="1" fill="#778899"/><rect x="1159" y="9" width="7" height="1" fill="#778899"/><rect x="1160" y="10" width="5" height="1" fill="#778899"/><rect x="1161" y="11" width="3" height="1" fill="#778899"/><rect x="1162" y="12" width="1" height="1" fill="#778899"/>
<g><text x="1462.00" y="443" fill="#fff" textLength="50.08" lengthAdjust="spacingAndGlyphs">1983.00</text><text x="1462.00" y="559" fill="#fff" textLength="50.08" lengthAdjust="spacingAndGlyphs">1955.00</text><text x="1462.00" y="597" fill="#fff" textLength="50.08" lengthAdjust="spacingAndGlyphs">1945.23</text></g>
</svg>
</body></html>
